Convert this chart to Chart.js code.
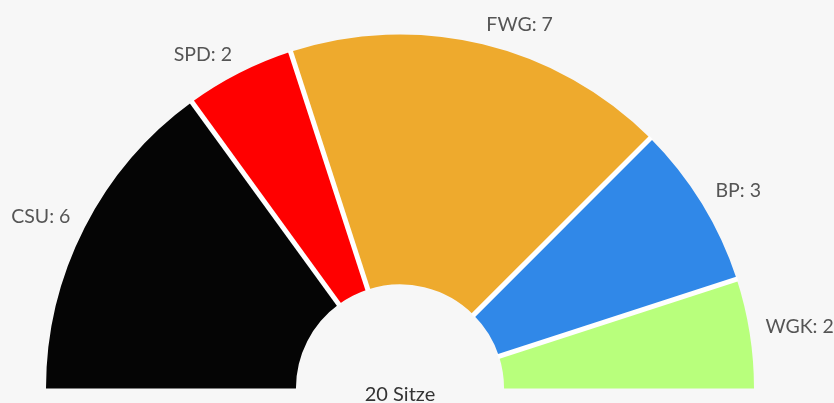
<!DOCTYPE html>
<html><head><meta charset="utf-8">
<script src="https://cdn.jsdelivr.net/npm/chart.js@4/dist/chart.umd.min.js"></script>
<style>
html,body{margin:0;padding:0;background:#f7f7f7;}
#wrap{width:834px;height:403px;position:relative;}
</style></head>
<body><div id="wrap"><canvas id="c" width="834" height="403"></canvas></div>
<script>
const parties = ["CSU", "SPD", "FWG", "BP", "WGK"];
const seats = [6, 2, 7, 3, 2];
const colors = ["#050505", "#ff0000", "#eeaa2d", "#3088e8", "#b8ff7c"];
const totalLabel = "20 Sitze";

const gapPlugin = {
  id: 'seatGaps',
  afterDatasetsDraw(chart) {
    const meta = chart.getDatasetMeta(0);
    const ctx = chart.ctx;
    ctx.save();
    ctx.strokeStyle = '#ffffff';
    ctx.lineWidth = 5;
    ctx.lineCap = 'butt';
    meta.data.forEach((arc, i) => {
      if (i === 0) return;
      const p = arc.getProps(['x','y','startAngle','innerRadius','outerRadius'], true);
      const c = Math.cos(p.startAngle), s = Math.sin(p.startAngle);
      ctx.beginPath();
      ctx.moveTo(p.x + c * (p.innerRadius - 1), p.y + s * (p.innerRadius - 1));
      ctx.lineTo(p.x + c * (p.outerRadius + 1), p.y + s * (p.outerRadius + 1));
      ctx.stroke();
    });
    ctx.restore();
  }
};

const labelPlugin = {
  id: 'seatLabels',
  afterDatasetsDraw(chart) {
    const ctx = chart.ctx;
    const meta = chart.getDatasetMeta(0);
    ctx.save();
    ctx.font = '19.5px Lato';
    ctx.fillStyle = '#555';
    ctx.textBaseline = 'middle';
    meta.data.forEach((arc, i) => {
      const p = arc.getProps(['x','y','startAngle','endAngle','outerRadius'], true);
      const mid = (p.startAngle + p.endAngle) / 2;
      const r = p.outerRadius + 16;
      const x = p.x + Math.cos(mid) * r;
      const y = p.y + Math.sin(mid) * r - 4;
      ctx.textAlign = Math.cos(mid) >= 0 ? 'left' : 'right';
      ctx.fillText(parties[i] + ': ' + seats[i], x, y);
    });
    const a = meta.data[0];
    ctx.font = '20px Lato';
    ctx.fillStyle = '#333';
    ctx.textAlign = 'center';
    ctx.textBaseline = 'alphabetic';
    ctx.fillText(totalLabel, a.x, a.y + 12);
    ctx.restore();
  }
};

new Chart(document.getElementById('c'), {
  type: 'doughnut',
  data: {
    labels: parties,
    datasets: [{
      data: seats,
      backgroundColor: colors,
      borderWidth: 0,
      hoverOffset: 0
    }]
  },
  options: {
    responsive: false,
    animation: false,
    rotation: -90,
    circumference: 180,
    cutout: '29.4%',
    radius: 354,
    layout: { padding: { left: 40, right: 74, top: 30, bottom: 10 } },
    plugins: { legend: { display: false }, tooltip: { enabled: false } }
  },
  plugins: [gapPlugin, labelPlugin]
});
</script></body></html>
